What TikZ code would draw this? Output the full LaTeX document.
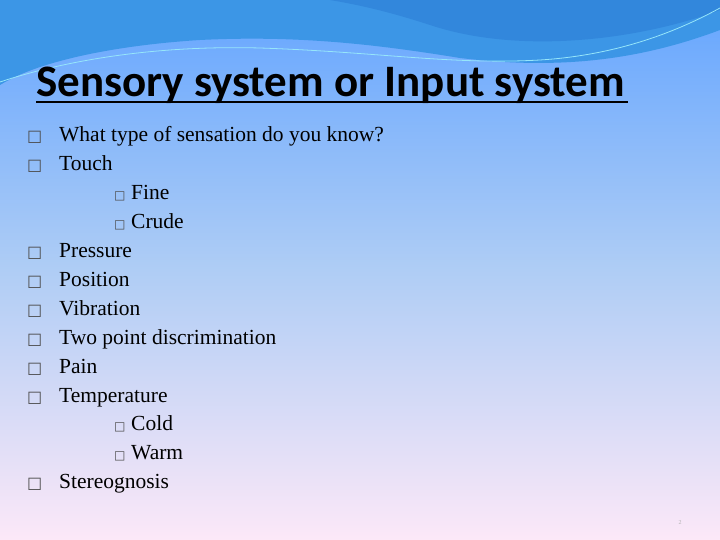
\documentclass[tikz,border=0pt]{standalone}
\usepackage{fontspec}
\setmainfont{Liberation Serif}
\newfontfamily\titlefont{Carlito}
\newfontfamily\symfont{DejaVu Sans}
\definecolor{bgtop}{RGB}{100,165,255}
\definecolor{bgmid}{RGB}{175,205,245}
\definecolor{bgbot}{RGB}{252,232,248}
\definecolor{waveA}{RGB}{60,150,230}
\definecolor{waveB}{RGB}{50,135,220}
\definecolor{waveL}{RGB}{150,230,250}
\begin{document}
\begin{tikzpicture}[x=1pt,y=-1pt,
  item/.style={anchor=base west,inner sep=0pt,font=\fontsize{21.5}{22}\selectfont},
  bx/.style={anchor=base west,inner sep=0pt,font=\symfont\fontsize{16}{16}\selectfont,text=black!70},
  sbx/.style={anchor=base west,inner sep=0pt,font=\symfont\fontsize{12}{12}\selectfont,text=black!70}]
\useasboundingbox (0,0) rectangle (720,540);
\shade[top color=bgtop, bottom color=bgbot, middle color=bgmid] (0,0) rectangle (720,540);
\fill[waveA] (0,0) -- (720,0) -- (720,30) .. controls (640,60) and (560,70) .. (460,58) .. controls (380,45) and (300,35) .. (200,40) .. controls (120,45) and (40,60) .. (0,85) -- cycle;
\fill[waveB] (330,0) -- (720,0) -- (720,10) .. controls (640,40) and (520,55) .. (430,25) .. controls (390,12) and (360,5) .. (330,0) -- cycle;
\draw[waveL,line width=0.8pt] (0,82) .. controls (60,62) and (150,45) .. (260,48) .. controls (380,52) and (450,65) .. (540,60) .. controls (620,55) and (680,30) .. (720,8);
\node[anchor=base west,inner sep=0pt,font=\titlefont\bfseries\fontsize{45}{46}\selectfont] (title) at (36,97) {Sensory system or Input system};
\draw[line width=2pt] (title.base west) ++(0,5) -- ++(592,0);
\foreach \y/\t [count=\i] in {142/What type of sensation do you know?,171/Touch,258/Pressure,286/Position,315/Vibration,344/Two point discrimination,373/Pain,402/Temperature,488/Stereognosis}{
  \node[bx] (b\i) at (27,\y) {□};
  \node[item] (t\i) at (59,\y) {\t};
}
\foreach \y/\t [count=\i] in {200/Fine,229/Crude,430/Cold,459/Warm}{
  \node[sbx] (sb\i) at (114,\y) {□};
  \node[item] (st\i) at (131,\y) {\t};
}
\node[inner sep=0pt,font=\fontsize{6}{6}\selectfont,text=black!30] (pg) at (680,523) {2};
\end{tikzpicture}
\end{document}
